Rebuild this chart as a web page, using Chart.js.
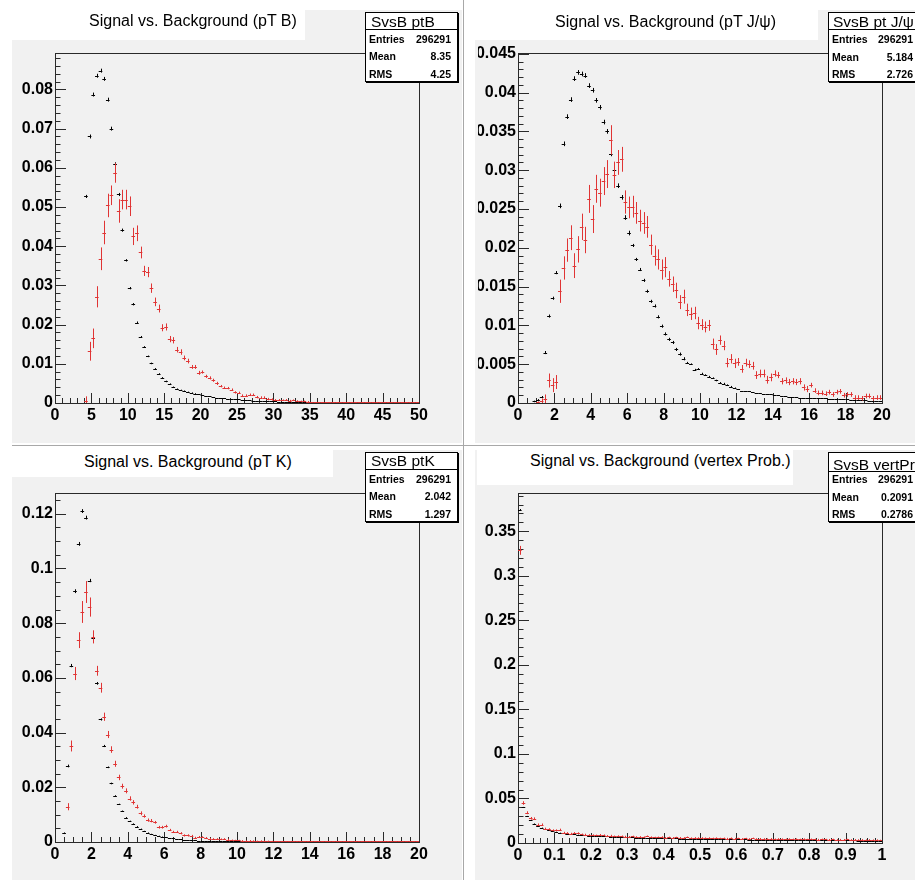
<!DOCTYPE html>
<html>
<head>
<meta charset="utf-8">
<title>Signal vs. Background</title>
<script src="https://cdn.jsdelivr.net/npm/chart.js@4.4.1/dist/chart.umd.min.js"></script>
<style>
    html, body { margin: 0; padding: 0; background: #fff; }
    body { width: 915px; height: 880px; position: relative; overflow: hidden;
           font-family: "Liberation Sans", Arial, sans-serif; color: #000; }
    .pad { position: absolute; background: #f1f1f1; }
    canvas { position: absolute; }
    .sep { position: absolute; background: #a8a8a8; }
    .title { position: absolute; background: #fff; }
    .title span { position: absolute; font-size: 16px; line-height: 16px; white-space: nowrap; }
    .stats { position: absolute; background: #fff; border: 1px solid #000;
             box-shadow: 1px 1px 0 #000; box-sizing: border-box; overflow: hidden; }
    .stats .head { position: absolute; font-size: 15.5px; line-height: 15.5px; white-space: nowrap; }
    .stats .rule { position: absolute; left: 0; right: 0; height: 1px; background: #000; }
    .stats .row { position: absolute; font-size: 10.5px; line-height: 10.5px; font-weight: bold; }
</style>
</head>
<body>

<div class="sep" style="left:463px; top:0; width:1px; height:880px;"></div>
<div class="sep" style="left:12px; top:445px; width:903px; height:1px;"></div>

<div class="pad" style="left:12px; top:10px; width:450px; height:433px;"></div>
<div class="pad" style="left:475px; top:10px; width:440px; height:433px;"></div>
<div class="pad" style="left:12px; top:450px; width:450px; height:430px;"></div>
<div class="pad" style="left:475px; top:450px; width:440px; height:430px;"></div>

<canvas id="padPtB" width="450" height="433" style="left:12px; top:10px;"></canvas>
<canvas id="padPtJpsi" width="450" height="433" style="left:465px; top:10px;"></canvas>
<canvas id="padPtK" width="450" height="430" style="left:12px; top:450px;"></canvas>
<canvas id="padVtx" width="450" height="430" style="left:465px; top:450px;"></canvas>

<!-- titles -->
<div class="title" style="left:12px; top:10px; width:293px; height:30px;"><span style="left:77px; top:3px;">Signal vs. Background (pT B)</span></div>
<div class="title" style="left:475px; top:10px; width:343px; height:30px;"><span style="left:80px; top:4px;">Signal vs. Background (pT J/ψ)</span></div>
<div class="title" style="left:12px; top:450px; width:321px; height:27px;"><span style="left:72px; top:4px;">Signal vs. Background (pT K)</span></div>
<div class="title" style="left:477px; top:450px; width:316px; height:35px;"><span style="left:53px; top:3px;">Signal vs. Background (vertex Prob.)</span></div>

<!-- stats boxes -->
<div class="stats" style="left:365px; top:12px; width:93px; height:70px;">
    <div class="head" style="left:5px; top:1px;">SvsB ptB</div>
    <div class="rule" style="top:16px;"></div>
    <div class="row" style="left:3px; top:21px;">Entries</div><div class="row" style="right:6px; top:21px;">296291</div>
    <div class="row" style="left:3px; top:38px;">Mean</div><div class="row" style="right:6px; top:38px;">8.35</div>
    <div class="row" style="left:3px; top:56px;">RMS</div><div class="row" style="right:6px; top:56px;">4.25</div>
</div>
<div class="stats" style="left:828px; top:12px; width:92px; height:70px;">
    <div class="head" style="left:4px; top:1px;">SvsB pt J/ψ</div>
    <div class="rule" style="top:16px;"></div>
    <div class="row" style="left:3px; top:21px;">Entries</div><div class="row" style="right:6px; top:21px;">296291</div>
    <div class="row" style="left:3px; top:39px;">Mean</div><div class="row" style="right:6px; top:39px;">5.184</div>
    <div class="row" style="left:3px; top:56px;">RMS</div><div class="row" style="right:6px; top:56px;">2.726</div>
</div>
<div class="stats" style="left:365px; top:452px; width:93px; height:70px;">
    <div class="head" style="left:5px; top:0px;">SvsB ptK</div>
    <div class="rule" style="top:16px;"></div>
    <div class="row" style="left:3px; top:21px;">Entries</div><div class="row" style="right:6px; top:21px;">296291</div>
    <div class="row" style="left:3px; top:38px;">Mean</div><div class="row" style="right:6px; top:38px;">2.042</div>
    <div class="row" style="left:3px; top:56px;">RMS</div><div class="row" style="right:6px; top:56px;">1.297</div>
</div>
<div class="stats" style="left:828px; top:452px; width:92px; height:70px;">
    <div class="head" style="left:4px; top:4px;">SvsB vertPr</div>
    <div class="rule" style="top:18px;"></div>
    <div class="row" style="left:3px; top:21px;">Entries</div><div class="row" style="right:6px; top:21px;">296291</div>
    <div class="row" style="left:3px; top:39px;">Mean</div><div class="row" style="right:6px; top:39px;">0.2091</div>
    <div class="row" style="left:3px; top:56px;">RMS</div><div class="row" style="right:6px; top:56px;">0.2786</div>
</div>

<script>
// ---- pT B : 100 bins, 0 - 50 ----
const ptBRange = [0, 50];
const ptBBkg = [
    0, 0, 0, 0, 0, 0, 0, 0, 0.0527, 0.0680,
    0.0787, 0.0835, 0.0848, 0.0827, 0.0774, 0.0700, 0.0610, 0.0532, 0.0441, 0.0364,
    0.0293, 0.0252, 0.0205, 0.0169, 0.0143, 0.0119, 0.0101, 0.0087, 0.0074, 0.0064,
    0.0055, 0.0048, 0.0041, 0.0036, 0.0033, 0.0031, 0.0028, 0.0026, 0.0024, 0.0022,
    0.0020, 0.0019, 0.0017, 0.0016, 0.0014, 0.0013, 0.0012, 0.0011, 0.0010, 0.0009,
    0.0009, 0.0008, 0.0007, 0.0007, 0.0006, 0.0006, 0.0005, 0.0005, 0.0004, 0.0004,
    0.0004, 0.0003, 0.0003, 0.0003, 0.0003, 0.0003, 0.0002, 0.0002, 0.0002, 0.0002,
    0.0002, 0.0002, 0.0002, 0.0001, 0.0001, 0.0001, 0.0001, 0.0001, 0.0001, 0.0001,
    0.0001, 0.0001, 0.0001, 0.0001, 0.0001, 0.0001, 0.0001, 0.0001, 0.0001, 0.0001,
    0.0001, 0.0001, 0.0001, 0.0001, 0.0001, 0.0001, 0.0001, 0.0001, 0.0001, 0.0001,
];
const ptBBkgErr = [
    0, 0, 0, 0, 0, 0, 0, 0, 0.0004, 0.0005,
    0.0005, 0.0005, 0.0005, 0.0005, 0.0005, 0.0005, 0.0004, 0.0004, 0.0004, 0.0003,
    0.0003, 0.0003, 0.0003, 0.0002, 0.0002, 0.0002, 0.0002, 0.0002, 0.0002, 0.0002,
    0.0002, 0.0002, 0.0001, 0.0001, 0.0001, 0.0001, 0.0001, 0.0001, 0.0001, 0.0001,
];
const ptBSig = [
    0, 0, 0, 0, 0, 0, 0, 0, 0.0005, 0.0132,
    0.0165, 0.0271, 0.0368, 0.0435, 0.0504, 0.0530, 0.0587, 0.0490, 0.0519, 0.0519,
    0.0502, 0.0425, 0.0433, 0.0384, 0.0337, 0.0334, 0.0293, 0.0258, 0.0241, 0.0192,
    0.0194, 0.0163, 0.0160, 0.0136, 0.0130, 0.0115, 0.0107, 0.0092, 0.0092, 0.0077,
    0.0079, 0.0068, 0.0064, 0.0058, 0.0050, 0.0043, 0.0039, 0.0038, 0.0034, 0.0027,
    0.0026, 0.0019, 0.0019, 0.0021, 0.0021, 0.0015, 0.0014, 0.0014, 0.0010, 0.0009,
    0.0008, 0.0008, 0.0007, 0.0008, 0.0006, 0.0007, 0.0005, 0.0004, 0.0004, 0.0003,
    0.0003, 0.0002, 0.0003, 0.0002, 0.0002, 0.0002, 0.0001, 0.0002, 0.0001, 0.0001,
    0.0001, 0.0001, 0.0001, 0.0001, 0.0001, 0.0001, 0.0001, 0.0001, 0.0001, 0.0001,
    0.0001, 0.0001, 0.0001, 0.0001, 0.0001, 0.0001, 0.0001, 0.0001, 0.0001, 0.0001,
];
const ptBSigErr = [
    0, 0, 0, 0, 0, 0, 0, 0, 0.0012, 0.0024,
    0.0025, 0.0027, 0.0029, 0.0030, 0.0030, 0.0025, 0.0025, 0.0030, 0.0025, 0.0025,
    0.0025, 0.0022, 0.0020, 0.0015, 0.0013, 0.0013, 0.0012, 0.0011, 0.0010, 0.0009,
    0.0009, 0.0008, 0.0008, 0.0007, 0.0007, 0.0006, 0.0006, 0.0005, 0.0005, 0.0005,
    0.0004, 0.0004, 0.0004, 0.0004, 0.0004, 0.0003, 0.0003, 0.0003, 0.0003, 0.0003,
    0.0003, 0.0003, 0.0003, 0.0003, 0.0003, 0.0003, 0.0003, 0.0003, 0.0003, 0.0003,
    0.0002, 0.0002, 0.0002, 0.0002, 0.0002, 0.0002, 0.0002, 0.0002, 0.0002, 0.0002,
];

// ---- pT J/psi : 100 bins, 0 - 20 ----
const ptJpsiRange = [0, 20];
const ptJpsiBkg = [
    0, 0, 0, 0, 0.0002, 0.0004, 0.0008, 0.0065, 0.0112, 0.0135,
    0.0168, 0.0254, 0.0334, 0.0369, 0.0391, 0.0418, 0.0426, 0.0424, 0.0422, 0.0409,
    0.0403, 0.0390, 0.0381, 0.0362, 0.0350, 0.0321, 0.0300, 0.0280, 0.0265, 0.0239,
    0.0219, 0.0203, 0.0185, 0.0172, 0.0158, 0.0144, 0.0131, 0.0125, 0.0111, 0.0099,
    0.0089, 0.0082, 0.0078, 0.0069, 0.0063, 0.0057, 0.0052, 0.0050, 0.0043, 0.0044,
    0.0038, 0.0036, 0.0034, 0.0032, 0.0029, 0.0026, 0.0025, 0.0023, 0.0021, 0.0019,
    0.0018, 0.0016, 0.0015, 0.0015, 0.0014, 0.0013, 0.0013, 0.0012, 0.0011, 0.0011,
    0.0010, 0.0010, 0.0009, 0.0009, 0.0008, 0.0008, 0.0008, 0.0007, 0.0007, 0.0007,
    0.0007, 0.0006, 0.0006, 0.0006, 0.0006, 0.0005, 0.0005, 0.0005, 0.0005, 0.0005,
    0.0005, 0.0004, 0.0004, 0.0004, 0.0004, 0.0004, 0.0003, 0.0003, 0.0003, 0.0003,
];
const ptJpsiBkgErr = [
    0, 0, 0, 0, 0.0001, 0.0001, 0.0001, 0.0002, 0.0002, 0.0002,
    0.0002, 0.0003, 0.0003, 0.0003, 0.0003, 0.0003, 0.0003, 0.0003, 0.0003, 0.0003,
    0.0003, 0.0003, 0.0003, 0.0003, 0.0003, 0.0003, 0.0003, 0.0003, 0.0003, 0.0003,
    0.0003, 0.0002, 0.0002, 0.0002, 0.0002, 0.0002, 0.0002, 0.0002, 0.0002, 0.0002,
    0.0002, 0.0002, 0.0002, 0.0002, 0.0002, 0.0002, 0.0001, 0.0001, 0.0001, 0.0001,
    0.0001, 0.0001, 0.0001, 0.0001, 0.0001, 0.0001, 0.0001, 0.0001, 0.0001, 0.0001,
];
const ptJpsiSig = [
    0, 0, 0, 0, 0, 0.0001, 0.0003, 0.0005, 0.0029, 0.0023,
    0.0027, 0.0144, 0.0174, 0.0197, 0.0213, 0.0177, 0.0198, 0.0227, 0.0210, 0.0263,
    0.0237, 0.0276, 0.0271, 0.0286, 0.0295, 0.0339, 0.0294, 0.0310, 0.0314, 0.0259,
    0.0252, 0.0253, 0.0245, 0.0235, 0.0232, 0.0227, 0.0204, 0.0190, 0.0185, 0.0172,
    0.0175, 0.0160, 0.0153, 0.0145, 0.0130, 0.0137, 0.0120, 0.0115, 0.0116, 0.0103,
    0.0101, 0.0098, 0.0100, 0.0076, 0.0069, 0.0081, 0.0074, 0.0052, 0.0057, 0.0051,
    0.0053, 0.0044, 0.0052, 0.0050, 0.0048, 0.0036, 0.0038, 0.0038, 0.0030, 0.0033,
    0.0038, 0.0036, 0.0028, 0.0029, 0.0027, 0.0028, 0.0027, 0.0028, 0.0020, 0.0018,
    0.0023, 0.0016, 0.0013, 0.0013, 0.0012, 0.0014, 0.0011, 0.0014, 0.0015, 0.0010,
    0.0011, 0.0011, 0.0007, 0.0007, 0.0006, 0.0009, 0.0009, 0.0006, 0.0007, 0.0007,
];
const ptJpsiSigErr = [
    0, 0, 0, 0, 0, 0.0001, 0.0003, 0.0006, 0.0009, 0.0009,
    0.0009, 0.0015, 0.0015, 0.0015, 0.0016, 0.0016, 0.0017, 0.0017, 0.0017, 0.0018,
    0.0018, 0.0018, 0.0018, 0.0018, 0.0018, 0.0019, 0.0017, 0.0016, 0.0016, 0.0015,
    0.0014, 0.0014, 0.0014, 0.0014, 0.0014, 0.0014, 0.0013, 0.0013, 0.0013, 0.0013,
    0.0013, 0.0010, 0.0010, 0.0010, 0.0009, 0.0009, 0.0008, 0.0008, 0.0008, 0.0008,
    0.0007, 0.0007, 0.0007, 0.0007, 0.0007, 0.0006, 0.0006, 0.0006, 0.0006, 0.0006,
    0.0005, 0.0005, 0.0005, 0.0005, 0.0005, 0.0005, 0.0005, 0.0005, 0.0005, 0.0005,
    0.0004, 0.0004, 0.0004, 0.0004, 0.0004, 0.0004, 0.0004, 0.0004, 0.0004, 0.0004,
    0.0003, 0.0003, 0.0003, 0.0003, 0.0003, 0.0003, 0.0003, 0.0003, 0.0003, 0.0003,
    0.0003, 0.0003, 0.0003, 0.0003, 0.0003, 0.0003, 0.0003, 0.0003, 0.0003, 0.0003,
];

// ---- pT K : 100 bins, 0 - 20 ----
const ptKRange = [0, 20];
const ptKBkg = [
    0, 0, 0.0032, 0.0278, 0.0645, 0.0917, 0.1090, 0.1210, 0.1186, 0.0956,
    0.0747, 0.0580, 0.0448, 0.0351, 0.0273, 0.0214, 0.0168, 0.0138, 0.0113, 0.0089,
    0.0076, 0.0066, 0.0056, 0.0047, 0.0040, 0.0034, 0.0029, 0.0025, 0.0022, 0.0019,
    0.0017, 0.0015, 0.0013, 0.0011, 0.0010, 0.0009, 0.0008, 0.0007, 0.0006, 0.0005,
    0.0005, 0.0004, 0.0004, 0.0003, 0.0003, 0.0003, 0.0002, 0.0002, 0.0002, 0.0002,
    0.0002, 0.0001, 0.0001, 0.0001, 0.0001, 0.0001, 0.0001, 0.0001, 0.0001, 0.0001,
    0.0001, 0.0001, 0.0001, 0.0001, 0.0001, 0.0001, 0.0001, 0.0001, 0.0001, 0.0001,
    0.0001, 0.0001, 0.0001, 0.0001, 0.0001, 0.0001, 0.0001, 0.0001, 0.0001, 0.0001,
    0.0001, 0.0001, 0.0001, 0.0001, 0.0001, 0.0001, 0.0001, 0.0001, 0.0001, 0.0001,
    0.0001, 0.0001, 0.0001, 0.0001, 0.0001, 0.0001, 0.0001, 0.0001, 0.0001, 0.0001,
];
const ptKBkgErr = [
    0, 0, 0.0003, 0.0005, 0.0006, 0.0007, 0.0007, 0.0007, 0.0007, 0.0006,
    0.0005, 0.0005, 0.0004, 0.0004, 0.0003, 0.0003, 0.0003, 0.0002, 0.0002, 0.0002,
    0.0002, 0.0002, 0.0002, 0.0002, 0.0001, 0.0001, 0.0001, 0.0001, 0.0001, 0.0001,
];
const ptKSig = [
    0, 0, 0, 0.0129, 0.0351, 0.0616, 0.0738, 0.0841, 0.0914, 0.0859,
    0.0750, 0.0626, 0.0564, 0.0458, 0.0393, 0.0338, 0.0286, 0.0236, 0.0204, 0.0187,
    0.0159, 0.0145, 0.0129, 0.0105, 0.0095, 0.0080, 0.0078, 0.0072, 0.0054, 0.0054,
    0.0058, 0.0044, 0.0037, 0.0037, 0.0032, 0.0024, 0.0024, 0.0022, 0.0016, 0.0019,
    0.0018, 0.0015, 0.0012, 0.0011, 0.0011, 0.0010, 0.0011, 0.0009, 0.0007, 0.0006,
    0.0006, 0.0005, 0.0004, 0.0005, 0.0004, 0.0003, 0.0004, 0.0003, 0.0003, 0.0002,
    0.0002, 0.0002, 0.0002, 0.0002, 0.0002, 0.0002, 0.0002, 0.0002, 0.0002, 0.0002,
    0.0001, 0.0001, 0.0001, 0.0001, 0.0001, 0.0001, 0.0001, 0.0001, 0.0001, 0.0001,
    0.0001, 0.0001, 0.0001, 0.0001, 0.0001, 0.0001, 0.0001, 0.0001, 0.0001, 0.0001,
    0.0001, 0.0001, 0.0001, 0.0001, 0.0001, 0.0001, 0.0001, 0.0001, 0.0001, 0.0001,
];
const ptKSigErr = [
    0, 0, 0, 0.0013, 0.0020, 0.0024, 0.0029, 0.0040, 0.0040, 0.0035,
    0.0024, 0.0018, 0.0018, 0.0015, 0.0013, 0.0012, 0.0011, 0.0010, 0.0009, 0.0009,
    0.0008, 0.0008, 0.0007, 0.0007, 0.0006, 0.0006, 0.0006, 0.0005, 0.0005, 0.0005,
    0.0005, 0.0004, 0.0004, 0.0004, 0.0004, 0.0004, 0.0004, 0.0004, 0.0003, 0.0003,
    0.0003, 0.0003, 0.0003, 0.0003, 0.0003, 0.0003, 0.0003, 0.0003, 0.0002, 0.0002,
    0.0002, 0.0002, 0.0002, 0.0002, 0.0002, 0.0002, 0.0002, 0.0002, 0.0002, 0.0002,
];

// ---- vertex probability : 100 bins, 0 - 1 ----
const vtxRange = [0, 1];
const vtxBkg = [
    0.3740, 0.0400, 0.0300, 0.0254, 0.0217, 0.0190, 0.0170, 0.0155, 0.0142, 0.0132,
    0.0124, 0.0117, 0.0111, 0.0106, 0.0101, 0.0097, 0.0093, 0.0090, 0.0087, 0.0084,
    0.0081, 0.0079, 0.0077, 0.0075, 0.0073, 0.0071, 0.0069, 0.0068, 0.0066, 0.0065,
    0.0064, 0.0062, 0.0061, 0.0060, 0.0059, 0.0058, 0.0057, 0.0056, 0.0055, 0.0054,
    0.0053, 0.0052, 0.0052, 0.0051, 0.0050, 0.0049, 0.0049, 0.0048, 0.0047, 0.0047,
    0.0046, 0.0045, 0.0045, 0.0044, 0.0044, 0.0043, 0.0043, 0.0042, 0.0042, 0.0041,
    0.0041, 0.0040, 0.0040, 0.0039, 0.0039, 0.0038, 0.0038, 0.0038, 0.0037, 0.0037,
    0.0036, 0.0036, 0.0036, 0.0035, 0.0035, 0.0034, 0.0034, 0.0034, 0.0033, 0.0033,
    0.0033, 0.0032, 0.0032, 0.0032, 0.0031, 0.0031, 0.0031, 0.0030, 0.0030, 0.0030,
    0.0029, 0.0029, 0.0029, 0.0028, 0.0028, 0.0028, 0.0027, 0.0027, 0.0026, 0.0025,
];
const vtxBkgErr = [
    0.0010, 0.0005, 0.0004, 0.0004, 0.0003, 0.0003, 0.0003, 0.0003, 0.0003, 0.0003,
    0.0002, 0.0002, 0.0002, 0.0002, 0.0002, 0.0002, 0.0002, 0.0002, 0.0002, 0.0002,
];
const vtxSig = [
    0.3286, 0.0449, 0.0340, 0.0277, 0.0273, 0.0206, 0.0206, 0.0160, 0.0153, 0.0142,
    0.0142, 0.0150, 0.0116, 0.0112, 0.0105, 0.0112, 0.0110, 0.0097, 0.0095, 0.0090,
    0.0088, 0.0085, 0.0092, 0.0087, 0.0080, 0.0083, 0.0074, 0.0077, 0.0075, 0.0072,
    0.0070, 0.0074, 0.0068, 0.0069, 0.0065, 0.0076, 0.0066, 0.0062, 0.0064, 0.0067,
    0.0060, 0.0063, 0.0058, 0.0062, 0.0059, 0.0057, 0.0064, 0.0055, 0.0058, 0.0056,
    0.0057, 0.0054, 0.0056, 0.0052, 0.0055, 0.0051, 0.0053, 0.0050, 0.0054, 0.0049,
    0.0052, 0.0048, 0.0051, 0.0047, 0.0053, 0.0046, 0.0049, 0.0047, 0.0045, 0.0048,
    0.0044, 0.0047, 0.0045, 0.0043, 0.0046, 0.0042, 0.0044, 0.0041, 0.0045, 0.0040,
    0.0043, 0.0041, 0.0039, 0.0042, 0.0040, 0.0038, 0.0041, 0.0037, 0.0039, 0.0038,
    0.0040, 0.0036, 0.0038, 0.0035, 0.0037, 0.0034, 0.0036, 0.0033, 0.0034, 0.0030,
];
const vtxSigErr = [
    0.0050, 0.0020, 0.0016, 0.0015, 0.0015, 0.0013, 0.0013, 0.0012, 0.0012, 0.0011,
    0.0011, 0.0011, 0.0010, 0.0010, 0.0010, 0.0010, 0.0010, 0.0009, 0.0009, 0.0009,
    0.0009, 0.0009, 0.0009, 0.0009, 0.0009, 0.0009, 0.0009, 0.0009, 0.0009, 0.0009,
    0.0008, 0.0008, 0.0008, 0.0008, 0.0008, 0.0008, 0.0008, 0.0008, 0.0008, 0.0008,
    0.0008, 0.0008, 0.0008, 0.0008, 0.0008, 0.0008, 0.0008, 0.0008, 0.0008, 0.0008,
    0.0008, 0.0008, 0.0008, 0.0008, 0.0008, 0.0008, 0.0008, 0.0008, 0.0008, 0.0008,
    0.0007, 0.0007, 0.0007, 0.0007, 0.0007, 0.0007, 0.0007, 0.0007, 0.0007, 0.0007,
    0.0007, 0.0007, 0.0007, 0.0007, 0.0007, 0.0007, 0.0007, 0.0007, 0.0007, 0.0007,
    0.0007, 0.0007, 0.0007, 0.0007, 0.0007, 0.0007, 0.0007, 0.0007, 0.0007, 0.0007,
    0.0007, 0.0007, 0.0007, 0.0007, 0.0007, 0.0007, 0.0007, 0.0007, 0.0007, 0.0007,
];

const BKG_COLOR = '#000000';
const SIG_COLOR = '#e03434';
const FRAME_COLOR = '#2a2a2a';
const Y_LABEL_WIDTH = 40;
const X_LABEL_HEIGHT = 28;

Chart.defaults.font.family = '"Liberation Sans", Arial, sans-serif';

// bin centres for a fixed-width histogram axis
function binCenters(range, n) {
    const w = (range[1] - range[0]) / n;
    return Array.from({ length: n }, (_, i) => range[0] + (i + 0.5) * w);
}

// ROOT-like look: frame, inside ticks, "+" markers with error bars
const rootStylePlugin = {
    id: 'rootStyle',
    beforeDatasetsDraw(chart, args, opts) {
        const { ctx, chartArea: a, scales } = chart;
        const xs = scales.x;
        const ys = scales.y;
        ctx.save();
        ctx.strokeStyle = FRAME_COLOR;
        ctx.lineWidth = 1;
        ctx.beginPath();
        const nx = Math.round((xs.max - xs.min) / opts.xMinor);
        for (let k = 0; k <= nx; k++) {
            const px = Math.round(xs.getPixelForValue(xs.min + k * opts.xMinor)) + 0.5;
            const len = k % opts.xSub === 0 ? 10 : 5;
            ctx.moveTo(px, a.bottom);
            ctx.lineTo(px, a.bottom - len);
        }
        const ny = Math.floor(ys.max / opts.yMinor + 1e-6);
        for (let k = 0; k <= ny; k++) {
            const py = Math.round(ys.getPixelForValue(k * opts.yMinor)) + 0.5;
            const len = k % opts.ySub === 0 ? 11 : 5.5;
            ctx.moveTo(a.left, py);
            ctx.lineTo(a.left + len, py);
        }
        ctx.stroke();
        ctx.strokeRect(Math.round(a.left) + 0.5, Math.round(a.top) + 0.5,
            Math.round(a.right - a.left), Math.round(a.bottom - a.top));
        ctx.restore();
    },
    afterDatasetsDraw(chart) {
        const { ctx, chartArea: a, scales } = chart;
        const xs = scales.x;
        const ys = scales.y;
        const lowest = Math.round(a.bottom) - 0.5;
        ctx.save();
        ctx.beginPath();
        ctx.rect(a.left, a.top, a.right - a.left, a.bottom - a.top + 1);
        ctx.clip();
        ctx.lineWidth = 1;
        chart.data.datasets.forEach((ds) => {
            ctx.strokeStyle = ds.borderColor;
            ctx.beginPath();
            ds.data.forEach((pt, i) => {
                if (!pt.y) return;
                const err = ds.errors[i] || 0;
                const x0 = xs.getPixelForValue(pt.x - ds.binWidth / 2);
                const x1 = xs.getPixelForValue(pt.x + ds.binWidth / 2);
                const cx = Math.round(xs.getPixelForValue(pt.x)) + 0.5;
                const py = Math.min(Math.round(ys.getPixelForValue(pt.y)) + 0.5, lowest);
                ctx.moveTo(x0, py);
                ctx.lineTo(x1, py);
                if (err > 0) {
                    ctx.moveTo(cx, ys.getPixelForValue(pt.y + err));
                    ctx.lineTo(cx, ys.getPixelForValue(Math.max(0, pt.y - err)));
                }
            });
            ctx.stroke();
        });
        ctx.restore();
    },
};

const tickLabel = (v) => String(+Number(v).toFixed(6));

function createHistoPad(canvasId, cfg) {
    const canvas = document.getElementById(canvasId);
    const centers = binCenters(cfg.range, cfg.bkg.length);
    const binWidth = (cfg.range[1] - cfg.range[0]) / cfg.bkg.length;
    const toPoints = (vals) => vals.map((v, i) => ({ x: centers[i], y: v }));
    const labelFont = { size: 16, weight: 'bold' };
    const f = cfg.frame; // [left, top, right, bottom] inside the canvas

    return new Chart(canvas.getContext('2d'), {
        type: 'scatter',
        data: {
            datasets: [
                { label: 'background', data: toPoints(cfg.bkg), errors: cfg.bkgErr, binWidth: binWidth,
                  borderColor: BKG_COLOR, pointRadius: 0, showLine: false },
                { label: 'signal', data: toPoints(cfg.sig), errors: cfg.sigErr, binWidth: binWidth,
                  borderColor: SIG_COLOR, pointRadius: 0, showLine: false },
            ],
        },
        options: {
            responsive: false,
            animation: false,
            devicePixelRatio: 1,
            events: [],
            layout: {
                padding: {
                    left: f[0] - Y_LABEL_WIDTH,
                    top: f[1],
                    right: canvas.width - f[2],
                    bottom: canvas.height - f[3] - X_LABEL_HEIGHT,
                },
            },
            plugins: {
                legend: { display: false },
                tooltip: { enabled: false },
                rootStyle: cfg.ticks,
            },
            scales: {
                x: {
                    type: 'linear',
                    min: cfg.range[0],
                    max: cfg.range[1],
                    grid: { display: false, drawTicks: false },
                    border: { display: false },
                    ticks: { stepSize: cfg.xStep, autoSkip: false, maxRotation: 0, includeBounds: false,
                             color: '#000', font: labelFont, padding: 3, callback: tickLabel },
                    afterFit: (scale) => { scale.height = X_LABEL_HEIGHT; },
                },
                y: {
                    type: 'linear',
                    min: 0,
                    max: cfg.yMax,
                    grid: { display: false, drawTicks: false },
                    border: { display: false },
                    ticks: { stepSize: cfg.yStep, autoSkip: false, includeBounds: false,
                             color: '#000', font: labelFont, padding: 2, callback: tickLabel },
                    afterFit: (scale) => { scale.width = Y_LABEL_WIDTH; },
                },
            },
        },
        plugins: [rootStylePlugin],
    });
}

createHistoPad('padPtB', {
    range: ptBRange, bkg: ptBBkg, bkgErr: ptBBkgErr, sig: ptBSig, sigErr: ptBSigErr,
    xStep: 5, yStep: 0.01, yMax: 0.0893, frame: [43, 43, 407, 393],
    ticks: { xMinor: 1, xSub: 5, yMinor: 0.002, ySub: 5 },
});
createHistoPad('padPtJpsi', {
    range: ptJpsiRange, bkg: ptJpsiBkg, bkgErr: ptJpsiBkgErr, sig: ptJpsiSig, sigErr: ptJpsiSigErr,
    xStep: 2, yStep: 0.005, yMax: 0.0451, frame: [53, 43, 417, 393],
    ticks: { xMinor: 0.5, xSub: 4, yMinor: 0.001, ySub: 5 },
});
createHistoPad('padPtK', {
    range: ptKRange, bkg: ptKBkg, bkgErr: ptKBkgErr, sig: ptKSig, sigErr: ptKSigErr,
    xStep: 2, yStep: 0.02, yMax: 0.1276, frame: [43, 43, 407, 392],
    ticks: { xMinor: 0.5, xSub: 4, yMinor: 0.005, ySub: 4 },
});
createHistoPad('padVtx', {
    range: vtxRange, bkg: vtxBkg, bkgErr: vtxBkgErr, sig: vtxSig, sigErr: vtxSigErr,
    xStep: 0.1, yStep: 0.05, yMax: 0.393, frame: [53, 43, 417, 393],
    ticks: { xMinor: 0.02, xSub: 5, yMinor: 0.01, ySub: 5 },
});
</script>
</body>
</html>
